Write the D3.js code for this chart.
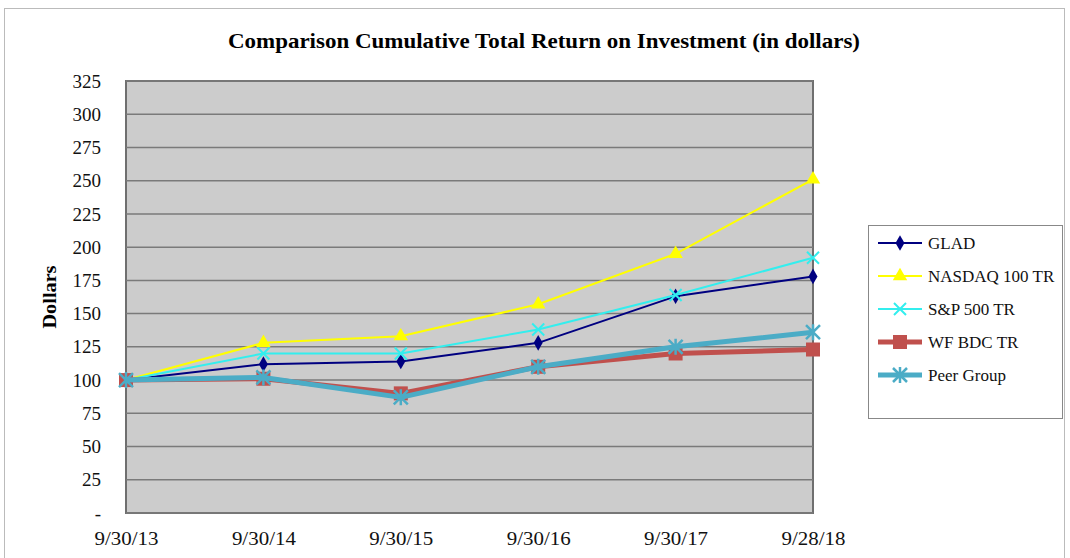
<!DOCTYPE html>
<html>
<head>
<meta charset="utf-8">
<script src="https://cdn.jsdelivr.net/npm/d3@7"></script>
<style>
  body { margin: 0; background: #fff; }
  text { font-family: "Liberation Serif", "DejaVu Serif", serif; }
</style>
</head>
<body>
<div id="chart"></div>
<script>
// Data
const dates = ["9/30/13", "9/30/14", "9/30/15", "9/30/16", "9/30/17", "9/28/18"]
const glad = [100, 112, 114, 128, 163, 178]
const nasdaq = [100, 128, 133, 157, 195, 251]
const sp500 = [100, 120, 120, 138, 164, 192]
const wfBdc = [100, 101, 90, 110, 120, 123]
const peer = [100, 102, 87, 110, 125, 136]
const yTicks = [0, 25, 50, 75, 100, 125, 150, 175, 200, 225, 250, 275, 300, 325]

const series = [
    {name: "GLAD",          values: glad,   colour: "#000080", width: 2, marker: "diamond"},
    {name: "NASDAQ 100 TR", values: nasdaq, colour: "#ffff00", width: 2, marker: "triangle"},
    {name: "S&P 500 TR",    values: sp500,  colour: "#33eeee", width: 2, marker: "cross"},
    {name: "WF BDC TR",     values: wfBdc,  colour: "#c0504d", width: 5, marker: "square"},
    {name: "Peer Group",    values: peer,   colour: "#4bacc6", width: 5, marker: "star"}
]

const WIDTH = 1070
const HEIGHT = 558
const PLOT = {LEFT: 126, RIGHT: 813, TOP: 81, BOTTOM: 513}

let svg = d3.select("#chart").append("svg")
    .attr("width", WIDTH)
    .attr("height", HEIGHT)

// outer frame
svg.append("rect")
    .attr("x", 4.5).attr("y", 8.5)
    .attr("width", 1060).attr("height", 560)
    .attr("fill", "none").attr("stroke", "#bbb")

let x = d3.scalePoint().domain(dates).range([PLOT.LEFT, PLOT.RIGHT])
let y = d3.scaleLinear().domain([0, 325]).range([PLOT.BOTTOM, PLOT.TOP])

// plot background
svg.append("rect")
    .attr("x", PLOT.LEFT).attr("y", PLOT.TOP)
    .attr("width", PLOT.RIGHT - PLOT.LEFT).attr("height", PLOT.BOTTOM - PLOT.TOP)
    .attr("fill", "#cccccc")
    .attr("stroke", "#6f6f6f").attr("stroke-width", 2)

// gridlines
svg.append("g").selectAll("line")
    .data(yTicks)
    .join("line")
    .attr("x1", PLOT.LEFT).attr("x2", PLOT.RIGHT)
    .attr("y1", d => y(d)).attr("y2", d => y(d))
    .attr("stroke", "#7a7a7a").attr("stroke-width", 1.5)

// y axis
let yAxis = svg.append("g")
    .attr("transform", `translate(${PLOT.LEFT - 22},0)`)
    .call(d3.axisLeft(y).tickValues(yTicks).tickSize(0).tickFormat(d => d === 0 ? "-" : d))
yAxis.select(".domain").remove()
yAxis.selectAll("text").attr("font-size", 19).attr("fill", "#111").attr("font-family", "Liberation Serif")

// x axis
let xAxis = svg.append("g")
    .call(d3.axisBottom(x).tickSize(0))
xAxis.select(".domain").remove()
xAxis.selectAll("text")
    .attr("y", 545).attr("dy", null)
    .attr("font-size", 19).attr("fill", "#111").attr("font-family", "Liberation Serif")
    .attr("textLength", 64).attr("lengthAdjust", "spacingAndGlyphs")

// title and axis label
svg.append("text")
    .attr("x", 544).attr("y", 48)
    .attr("text-anchor", "middle")
    .attr("font-size", 22).attr("font-weight", "bold")
    .attr("textLength", 632).attr("lengthAdjust", "spacingAndGlyphs")
    .text("Comparison Cumulative Total Return on Investment (in dollars)")

svg.append("text")
    .attr("transform", "translate(56,297) rotate(-90)")
    .attr("text-anchor", "middle")
    .attr("font-size", 19).attr("font-weight", "bold")
    .attr("textLength", 63).attr("lengthAdjust", "spacingAndGlyphs")
    .text("Dollars")

// marker drawing helper
function drawMarker(g, type, colour, px, py) {
    if (type === "diamond") {
        g.append("path").attr("d", d3.symbol(d3.symbolDiamond, 70)())
            .attr("transform", `translate(${px},${py})`).attr("fill", colour)
    } else if (type === "triangle") {
        g.append("path").attr("d", d3.symbol(d3.symbolTriangle, 90)())
            .attr("transform", `translate(${px},${py})`).attr("fill", colour)
    } else if (type === "cross") {
        g.append("path").attr("d", "M-6,-6L6,6M-6,6L6,-6")
            .attr("transform", `translate(${px},${py})`)
            .attr("stroke", colour).attr("stroke-width", 2).attr("fill", "none")
    } else if (type === "square") {
        g.append("rect").attr("x", px - 7).attr("y", py - 7)
            .attr("width", 14).attr("height", 14).attr("fill", colour)
    } else if (type === "star") {
        g.append("path").attr("d", "M-7,-7L7,7M-7,7L7,-7M0,-8L0,8")
            .attr("transform", `translate(${px},${py})`)
            .attr("stroke", colour).attr("stroke-width", 2.5).attr("fill", "none")
    }
}

// lines
let line = d3.line().x((d, i) => x(dates[i])).y(d => y(d))
series.forEach(s => {
    let g = svg.append("g")
    g.append("path")
        .datum(s.values)
        .attr("d", line)
        .attr("fill", "none")
        .attr("stroke", s.colour)
        .attr("stroke-width", s.width)
        .attr("stroke-linejoin", "round")
    s.values.forEach((v, i) => drawMarker(g, s.marker, s.colour, x(dates[i]), y(v)))
})

// legend
let legend = svg.append("g")
legend.append("rect")
    .attr("x", 868.5).attr("y", 225.5)
    .attr("width", 194).attr("height", 193)
    .attr("fill", "#fff").attr("stroke", "#888")
series.forEach((s, i) => {
    let ly = 243 + i * 33
    let g = legend.append("g")
    g.append("line")
        .attr("x1", 878).attr("x2", 922)
        .attr("y1", ly).attr("y2", ly)
        .attr("stroke", s.colour).attr("stroke-width", s.width)
    drawMarker(g, s.marker, s.colour, 900, ly)
    g.append("text")
        .attr("x", 928).attr("y", ly + 6)
        .attr("font-size", 17).attr("fill", "#111")
        .text(s.name)
})
</script>
</body>
</html>
